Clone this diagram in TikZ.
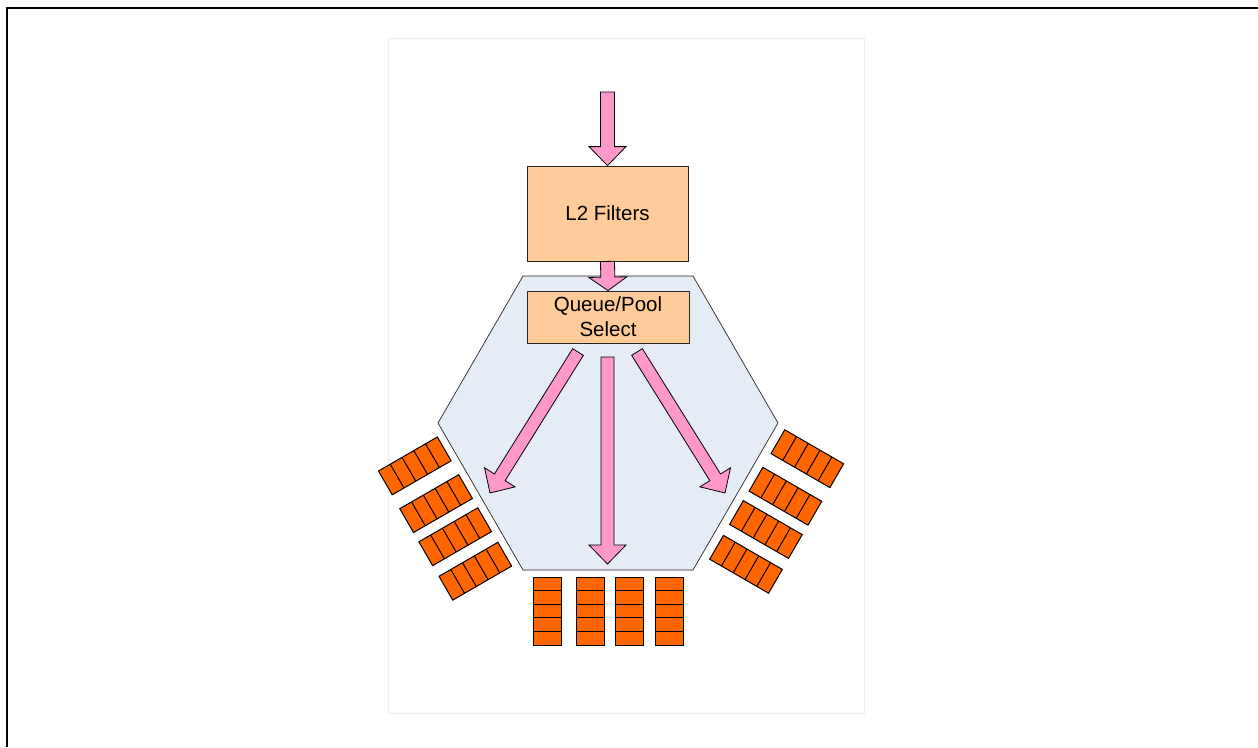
\documentclass[tikz,border=0pt]{standalone}
\usepackage{fontspec}
\setmainfont{Liberation Sans}
\usetikzlibrary{calc}
\definecolor{pinkfill}{RGB}{255,153,204}
\definecolor{peach}{RGB}{255,204,153}
\definecolor{hexfill}{RGB}{230,236,246}
\definecolor{qorange}{RGB}{255,102,0}
\definecolor{pageedge}{RGB}{236,236,236}
\tikzset{
  box/.style={draw=black!85, line width=0.8pt, fill=peach, font=\fontsize{20.5}{25}\selectfont, align=center, inner sep=0pt},
  parrowstyle/.style={fill=pinkfill, draw=black, line width=0.8pt, line join=miter},
  hexstyle/.style={fill=hexfill, draw=black!85, line width=0.7pt},
  queue/.pic={
    \draw[fill=qorange, line width=1pt] (-13.75,-34) rectangle (13.75,34);
    \foreach \k in {1,...,4} \draw[line width=1pt] (-13.75,-34+13.6*\k) -- (13.75,-34+13.6*\k);
  }
}
% block arrow: from, to, half shaft width, half head width, head length
\newcommand{\blockarr}[5]{%
  \coordinate (hb) at ($(#2)!#5!(#1)$);
  \path[parrowstyle] ($(#1)!#3!90:(#2)$) -- ($(hb)!#3!90:(#2)$) -- ($(hb)!#4!90:(#2)$) -- (#2)
    -- ($(hb)!#4!-90:(#2)$) -- ($(hb)!#3!-90:(#2)$) -- ($(#1)!#3!-90:(#2)$) -- cycle;
}
\begin{document}
\begin{tikzpicture}[x=1pt,y=1pt]
\useasboundingbox (0,0) rectangle (1258,-747);
\fill[white] (0,0) rectangle (1258,-747);
% outer frame
\draw[line width=2.3pt] (7,-747) -- (7,-8) -- (1258,-8);
% page
\draw[pageedge, fill=white, line width=0.8pt] (388,-38) rectangle (864,-713);
% hexagon
\path[hexstyle] (523,-276) -- (693,-276) -- (778,-423) -- (693,-570) -- (523,-570) -- (438,-423) -- cycle;
% queues: bottom
\foreach \x in {547.5,590.5,629.5,669.5} \pic at (\x,-611) {queue};
% left
\foreach \x/\y in {414.8/465.9,436.1/503.6,455.2/536.7,475.3/571.2} \pic[rotate=-60] at (\x,-\y) {queue};
% right
\foreach \x/\y in {807.3/458.7,785.4/496.2,765.9/529.5,746/564.3} \pic[rotate=60] at (\x,-\y) {queue};
% boxes
\node[box, minimum width=161pt, minimum height=95pt] (l2) at (607.5,-213.5) {L2 Filters};
\node[box, minimum width=162pt, minimum height=52pt] (qs) at (608,-317) {Queue/Pool\\Select};
% arrow endpoints
\coordinate (topin) at (607.5,-92);
\coordinate (cstart) at (607.5,-357);
\coordinate (cend) at (607.5,-564);
\coordinate (lstart) at (578,-352);
\coordinate (lend) at (490,-493);
\coordinate (rstart) at (637,-352);
\coordinate (rend) at (725,-493);
% arrows
\blockarr{topin}{l2.north}{7pt}{18.5pt}{19pt}
\blockarr{l2.south}{qs.north}{7pt}{19pt}{13.5pt}
\blockarr{cstart}{cend}{6.5pt}{18.5pt}{19pt}
\blockarr{lstart}{lend}{6.3pt}{18pt}{18.5pt}
\blockarr{rstart}{rend}{6.3pt}{18pt}{18.5pt}
\end{tikzpicture}
\end{document}
